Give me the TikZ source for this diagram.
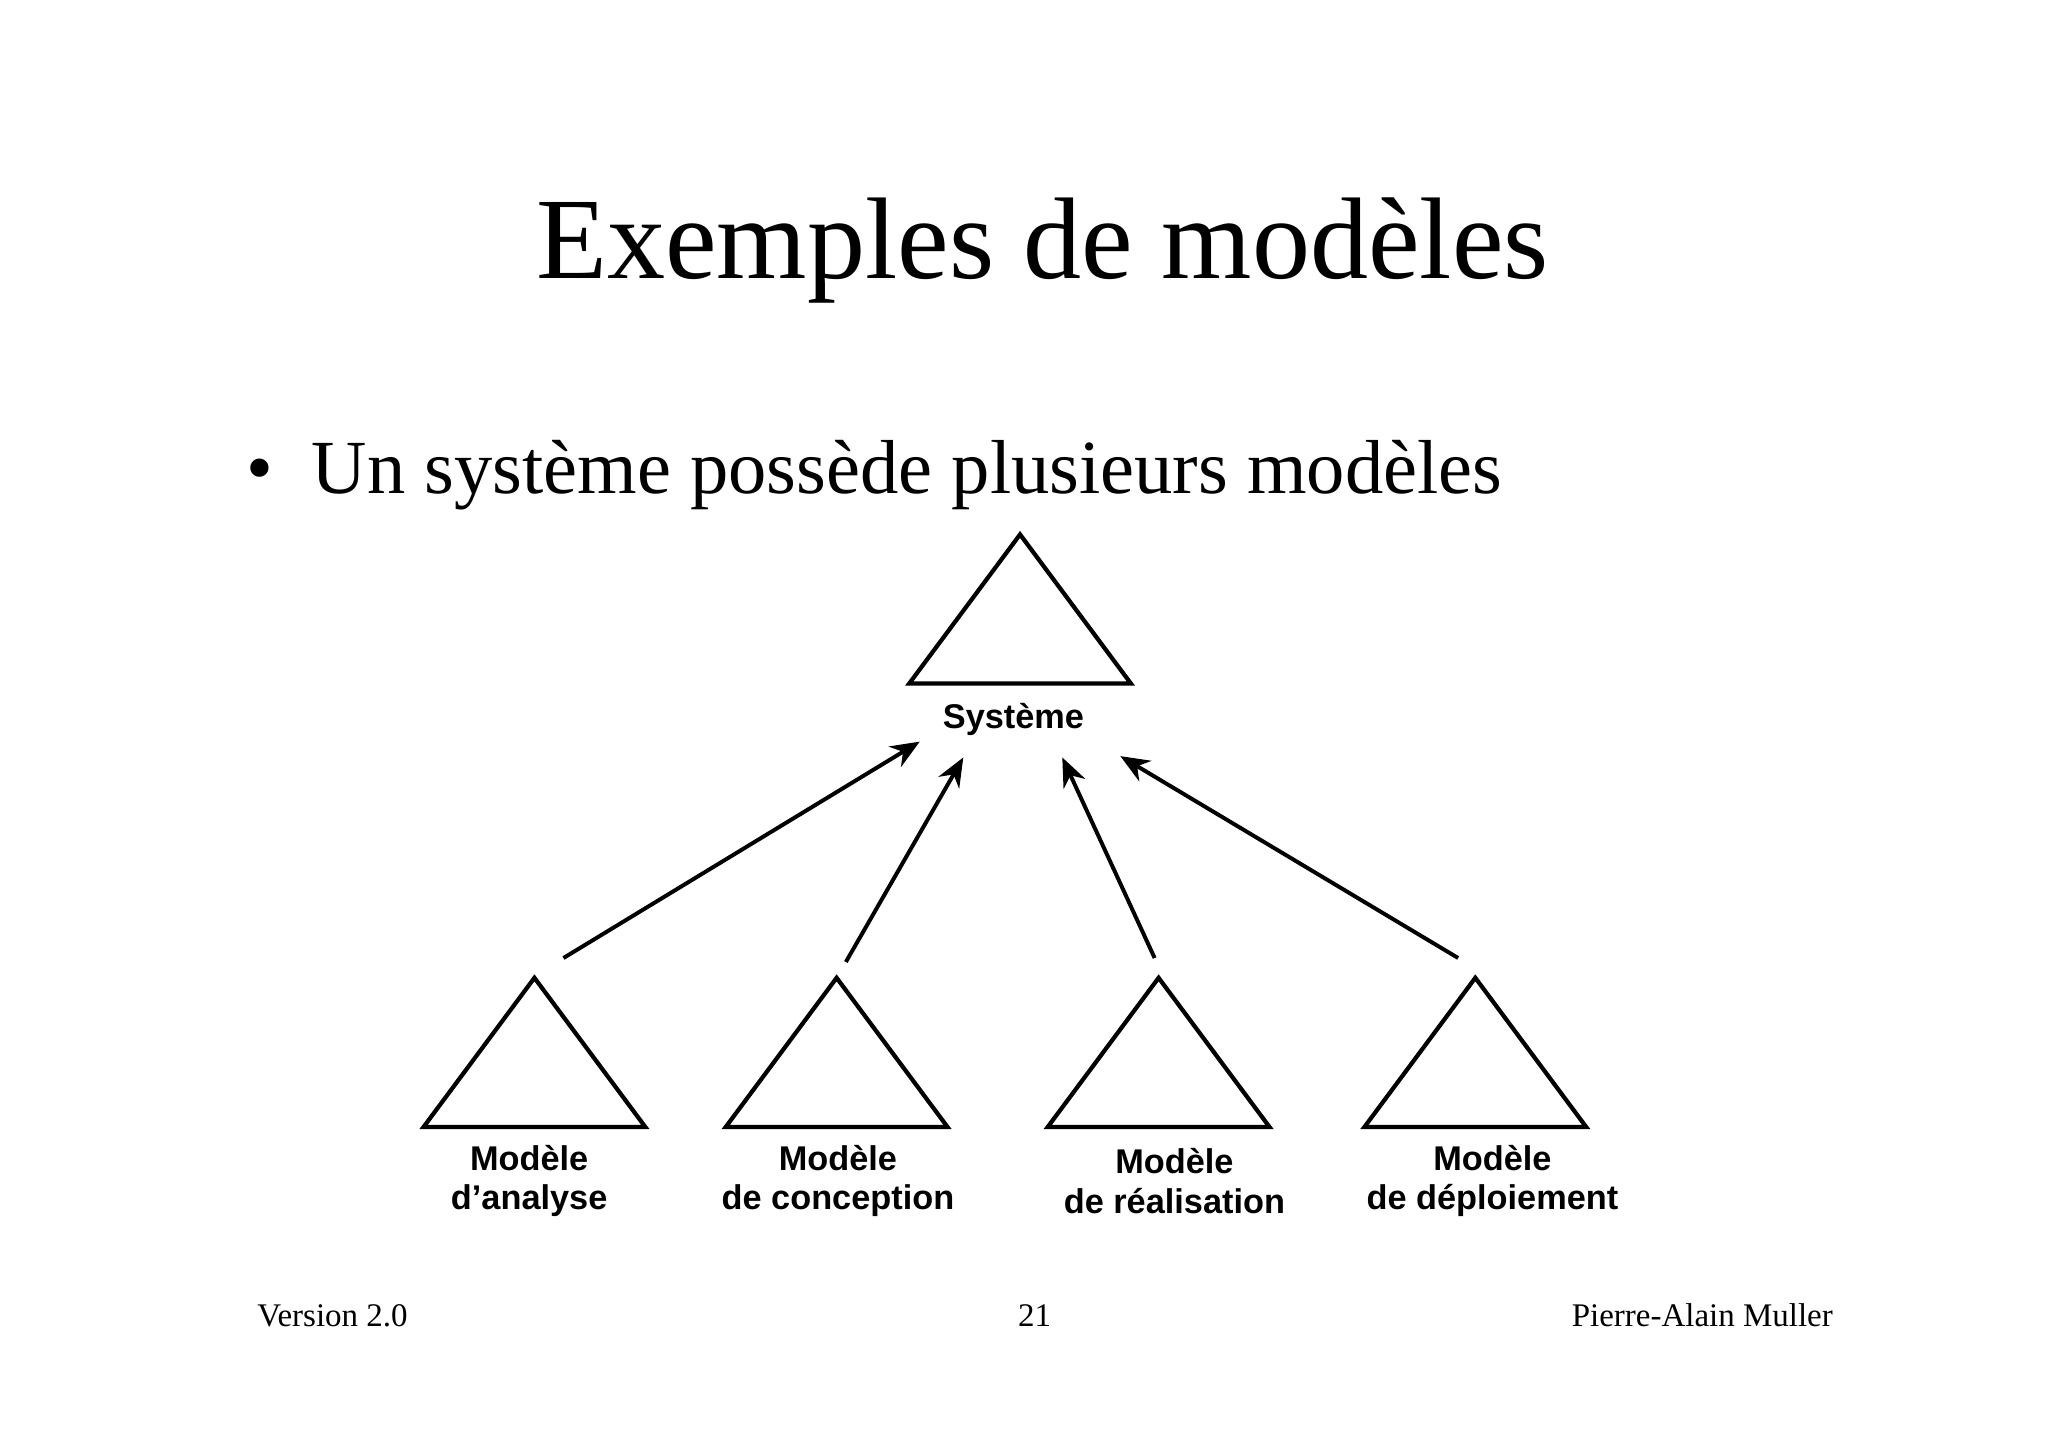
\documentclass[tikz,border=0pt]{standalone}
\usepackage{fontspec}
\setmainfont{Liberation Serif}
\newfontfamily\lab{Liberation Sans}
\usetikzlibrary{arrows.meta}
\begin{document}
\begin{tikzpicture}[x=0.5pt,y=-0.5pt,
 tri/.style={draw,line width=1.6pt,line join=miter},
 lbl/.style={font=\lab\bfseries\fontsize{13}{15}\selectfont,align=center},
 arr/.style={line width=1.5pt,-{Stealth[length=11pt,width=9pt]}}]
\useasboundingbox (0,0) rectangle (1552,1097);
\node (title) at (790,190) {\fontsize{44}{50}\selectfont Exemples de modèles};
\node[anchor=west] (bul) at (180,360) {\fontsize{29}{34}\selectfont \textbullet\ \ Un système possède plusieurs modèles};
\draw[tri] (773,405) -- (857,518) -- (689,518) -- cycle;
\node[lbl] (sys) at (768,545) {Système};
\foreach \x/\n/\t in {405/a/{Modèle\\d’analyse},634/b/{Modèle\\de conception},878/c/{Modèle\\de réalisation},1118/d/{Modèle\\de déploiement}}{
  \draw[tri] (\x,741) -- (\x+84,854) -- (\x-84,854) -- cycle;
}
\node[lbl] (la) at (401,895) {Modèle\\d’analyse};
\node[lbl] (lb) at (635,895) {Modèle\\de conception};
\node[lbl] (lc) at (890,895) {Modèle\\de réalisation};
\node[lbl] (ld) at (1131,895) {Modèle\\de déploiement};
\coordinate (s1) at (427,726); \coordinate (e1) at (697,562);
\coordinate (s2) at (641,729); \coordinate (e2) at (730,574);
\coordinate (s3) at (875,726); \coordinate (e3) at (805,574);
\coordinate (s4) at (1105,726); \coordinate (e4) at (849,573);
\draw[arr] (s1) -- (e1);
\draw[arr] (s2) -- (e2);
\draw[arr] (s3) -- (e3);
\draw[arr] (s4) -- (e4);
\node[anchor=west] (f1) at (188,997) {\fontsize{12.5}{14}\selectfont Version 2.0};
\node (f2) at (784,997) {\fontsize{12.5}{14}\selectfont 21};
\node[anchor=east] (f3) at (1396,997) {\fontsize{12.5}{14}\selectfont Pierre-Alain Muller};
\end{tikzpicture}
\end{document}
